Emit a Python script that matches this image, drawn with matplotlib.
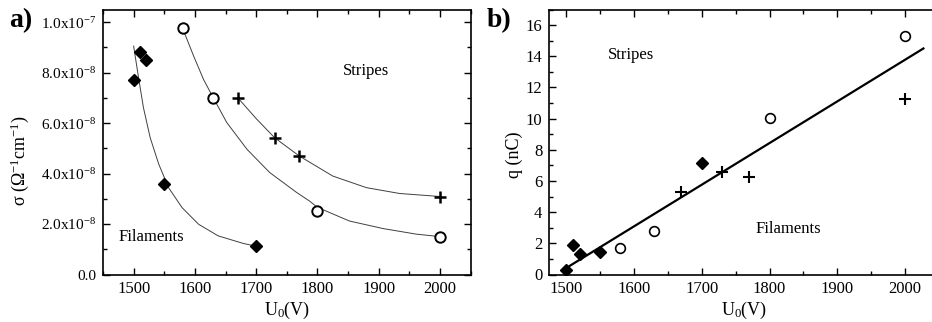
import matplotlib
matplotlib.use('Agg')
import matplotlib.pyplot as plt
from matplotlib.ticker import MultipleLocator, FixedLocator

plt.rcParams['font.family'] = ['Liberation Serif', 'DejaVu Serif']
plt.rcParams['mathtext.fontset'] = 'custom'
plt.rcParams['mathtext.rm'] = 'Liberation Serif'
plt.rcParams['mathtext.it'] = 'Liberation Serif:italic'
plt.rcParams['mathtext.default'] = 'regular'

# ---- panel a: conductivity vs voltage ----
fil_u = [1500, 1510, 1520, 1550, 1700]
fil_s = [7.7e-8, 8.8e-8, 8.5e-8, 3.6e-8, 1.12e-8]
str_o_u = [1580, 1630, 1800, 2000]
str_o_s = [9.75e-8, 7.0e-8, 2.52e-8, 1.5e-8]
str_p_u = [1670, 1730, 1770, 2000]
str_p_s = [7.0e-8, 5.42e-8, 4.7e-8, 3.09e-8]

# fitted curves
fit_fil_u = [1500, 1508, 1516, 1527, 1541, 1557, 1579, 1606, 1638, 1679, 1700]
fit_fil_s = [9.05e-8, 7.80e-8, 6.61e-8, 5.42e-8, 4.37e-8, 3.44e-8, 2.65e-8,
             1.99e-8, 1.53e-8, 1.23e-8, 1.12e-8]
fit_o_u = [1580, 1598, 1614, 1630, 1652, 1685, 1722, 1766, 1787, 1800, 1852,
           1907, 1961, 2000]
fit_o_s = [9.75e-8, 8.65e-8, 7.73e-8, 7.0e-8, 6.02e-8, 4.96e-8, 4.04e-8,
           3.25e-8, 2.91e-8, 2.66e-8, 2.12e-8, 1.82e-8, 1.60e-8, 1.50e-8]
fit_p_u = [1670, 1701, 1730, 1770, 1825, 1880, 1934, 2000]
fit_p_s = [7.0e-8, 6.15e-8, 5.42e-8, 4.70e-8, 3.90e-8, 3.44e-8, 3.21e-8,
           3.09e-8]

ytick_a = [0, 2e-8, 4e-8, 6e-8, 8e-8, 1e-7]
ylab_a = ['0.0', '2.0x10$^{-8}$', '4.0x10$^{-8}$', '6.0x10$^{-8}$',
          '8.0x10$^{-8}$', '1.0x10$^{-7}$']

# ---- panel b: charge vs voltage ----
fil_q_u = [1500, 1510, 1520, 1550, 1700]
fil_q = [0.3, 1.87, 1.32, 1.47, 7.16]
o_q_u = [1580, 1630, 1800, 2000]
o_q = [1.73, 2.77, 10.06, 15.32]
p_q_u = [1670, 1730, 1770, 2000]
p_q = [5.3, 6.58, 6.28, 11.23]
line_u = [1505, 2027]
line_q = [0.55, 14.5]

W, H = 932, 322
fig = plt.figure(figsize=(W / 100, H / 100), dpi=100)
ax1 = fig.add_axes([103 / W, 1 - 274.5 / H, (470.7 - 103) / W, (274.5 - 9.5) / H])
ax2 = fig.add_axes([549.3 / W, 1 - 274.5 / H, (939 - 549.3) / W, (274.5 - 9.5) / H])


def style(ax):
    ax.tick_params(which='both', direction='in', top=True, right=True,
                   labelsize=12, width=1)
    ax.tick_params(which='major', length=5, pad=5)
    ax.tick_params(which='minor', length=3)
    for s in ax.spines.values():
        s.set_linewidth(1.2)


gray = '#404040'
ax1.plot(fit_fil_u, fit_fil_s, color=gray, lw=0.7)
ax1.plot(fit_o_u, fit_o_s, color=gray, lw=0.7)
ax1.plot(fit_p_u, fit_p_s, color=gray, lw=0.7)
ax1.plot(fil_u, fil_s, 'D', color='black', ms=6, ls='none')
ax1.plot(str_o_u, str_o_s, 'o', mfc='white', mec='black', mew=1.4, ms=7.5, ls='none')
ax1.plot(str_p_u, str_p_s, '+', color='black', mew=1.8, ms=8, ls='none')
ax1.set_xlim(1450, 2050)
ax1.set_ylim(0, 1.05e-7)
ax1.xaxis.set_major_locator(MultipleLocator(100))
ax1.xaxis.set_minor_locator(MultipleLocator(50))
ax1.yaxis.set_major_locator(FixedLocator(ytick_a))
ax1.yaxis.set_minor_locator(MultipleLocator(1e-8))
ax1.set_yticklabels(ylab_a)
style(ax1)
ax1.tick_params(axis='y', labelsize=11)
ax1.set_ylabel(r'$\sigma$ ($\Omega^{-1}$cm$^{-1}$)', fontsize=13)
ax1.yaxis.set_label_coords(-0.195, 0.43)
ax1.set_xlabel('U$_0$(V)', fontsize=13, labelpad=2)
ax1.text(1841, 8.05e-8, 'Stripes', fontsize=12, va='center')
ax1.text(1475, 1.48e-8, 'Filaments', fontsize=12, va='center')
fig.text(9 / W, 1 - 21 / H, 'a)', fontsize=20, fontweight='bold',
         va='center', ha='left')

ax2.plot(line_u, line_q, color='black', lw=1.6)
ax2.plot(fil_q_u, fil_q, 'D', color='black', ms=6, ls='none')
ax2.plot(o_q_u, o_q, 'o', mfc='white', mec='black', mew=1.2, ms=7, ls='none')
ax2.plot(p_q_u, p_q, '+', color='black', mew=1.5, ms=8, ls='none')
ax2.set_xlim(1475, 2050)
ax2.set_ylim(0, 17)
ax2.xaxis.set_major_locator(MultipleLocator(100))
ax2.xaxis.set_minor_locator(MultipleLocator(50))
ax2.yaxis.set_major_locator(MultipleLocator(2))
ax2.yaxis.set_minor_locator(MultipleLocator(1))
style(ax2)
ax2.set_ylabel('q (nC)', fontsize=13)
ax2.yaxis.set_label_coords(-0.067, 0.45)
ax2.set_xlabel('U$_0$(V)', fontsize=13, labelpad=2)
ax2.text(1561, 14.08, 'Stripes', fontsize=12, va='center')
ax2.text(1780, 2.9, 'Filaments', fontsize=12, va='center')
fig.text(487 / W, 1 - 21 / H, 'b)', fontsize=20, fontweight='bold',
         va='center', ha='left')

fig.savefig('out.png', dpi=100)
